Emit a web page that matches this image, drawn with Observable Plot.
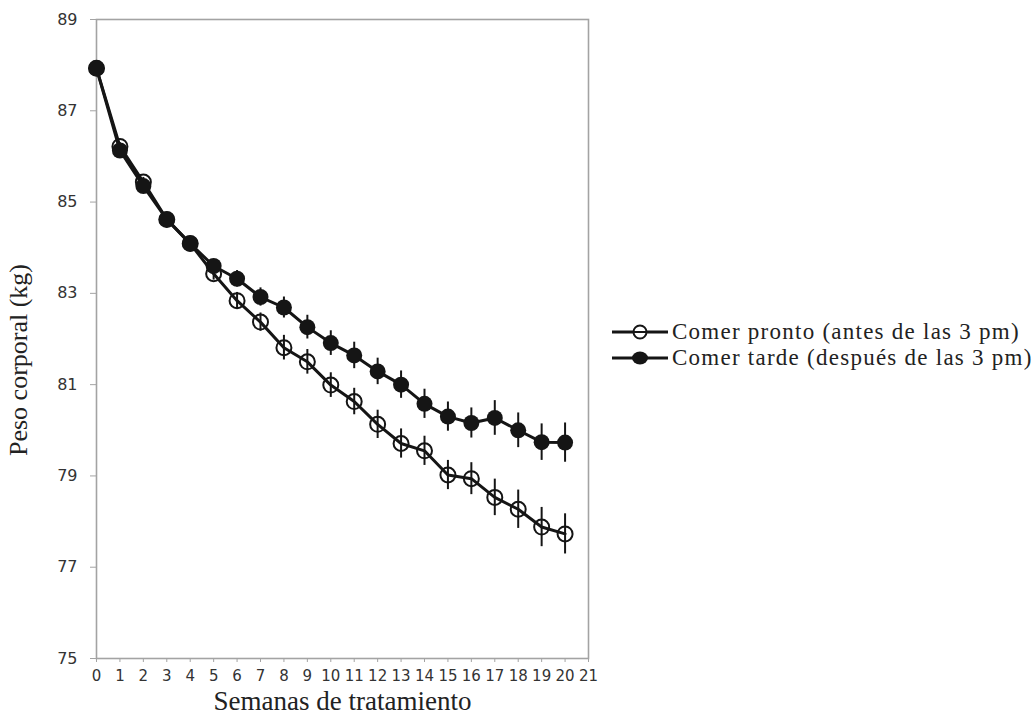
<!DOCTYPE html>
<html>
<head>
<meta charset="utf-8">
<script src="https://cdn.jsdelivr.net/npm/d3@7"></script>
<script src="https://cdn.jsdelivr.net/npm/@observablehq/plot@0.6"></script>
<style>
  body { margin: 0; background: #fff; }
  #wrap { position: relative; width: 1033px; height: 717px; }
  #legend { position: absolute; left: 612px; top: 319px; font-family: "Liberation Serif", serif; font-size: 23px; letter-spacing: 1.25px; color: #222; }
  #legend .row { display: flex; align-items: center; height: 26px; white-space: nowrap; }
  #legend svg { margin-right: 4px; }
</style>
</head>
<body>
<div id="wrap">
  <div id="chart"></div>
  <div id="legend"></div>
</div>
<script>
const weeks = [0,1,2,3,4,5,6,7,8,9,10,11,12,13,14,15,16,17,18,19,20];
const prontoLabel = "Comer pronto (antes de las 3 pm)";
const tardeLabel = "Comer tarde (después de las 3 pm)";
const pronto = [87.93,86.22,85.44,84.62,84.09,83.43,82.84,82.37,81.81,81.50,80.99,80.63,80.13,79.71,79.55,79.02,78.94,78.53,78.27,77.88,77.73];
const prontoErr = [0.05,0.08,0.10,0.10,0.12,0.14,0.18,0.20,0.27,0.27,0.27,0.29,0.31,0.32,0.32,0.32,0.35,0.40,0.42,0.43,0.44];
const tarde = [87.93,86.13,85.35,84.62,84.09,83.60,83.32,82.92,82.69,82.26,81.91,81.64,81.29,81.00,80.58,80.30,80.16,80.27,80.00,79.74,79.73];
const tardeErr = [0.05,0.08,0.10,0.10,0.12,0.14,0.18,0.20,0.23,0.26,0.27,0.29,0.29,0.30,0.32,0.32,0.33,0.38,0.38,0.40,0.43];
const xTicks = d3.range(0, 22);
const yTicks = [75,77,79,81,83,85,87,89];

const dP = weeks.map((w,i) => ({w, v: pronto[i], e: prontoErr[i]}));
const dT = weeks.map((w,i) => ({w, v: tarde[i], e: tardeErr[i]}));

const ink = "#151515";
const chart = Plot.plot({
  width: 1033, height: 717,
  marginLeft: 96, marginTop: 19, marginBottom: 59, marginRight: 445,
  style: {fontFamily: "DejaVu Sans", fontSize: "15px", color: "#333", background: "#fff"},
  x: {domain: [0, 21]},
  y: {domain: [75, 89]},
  marks: [
    Plot.frame({stroke: "#a3a3a3", strokeWidth: 1.6}),
    Plot.axisX({ticks: xTicks, tickSize: 4, tickPadding: 8, stroke: "#a3a3a3", fill: "#333", fontFamily: "DejaVu Sans", fontSize: 15, label: null}),
    Plot.axisY({ticks: yTicks, tickSize: 6, tickPadding: 13, stroke: "#a3a3a3", fill: "#333", fontFamily: "DejaVu Sans", fontSize: 16, label: null}),
    Plot.text(["Semanas de tratamiento"], {frameAnchor: "bottom", lineAnchor: "middle", textAnchor: "middle", dy: 43, fontFamily: "Liberation Serif", fontSize: 27, fill: "#222", style: "letter-spacing:1.8px"}),
    Plot.text(["Peso corporal (kg)"], {frameAnchor: "left", lineAnchor: "middle", textAnchor: "middle", rotate: -90, dx: -78, dy: 21, fontFamily: "Liberation Serif", fontSize: 26, fill: "#222", style: "letter-spacing:1.4px"}),
    // Early series (open markers)
    Plot.line(dP, {x: "w", y: "v", stroke: ink, strokeWidth: 3}),
    Plot.ruleX(dP, {x: "w", y1: d => d.v - d.e, y2: d => d.v + d.e, stroke: ink, strokeWidth: 2}),
    Plot.dot(dP, {x: "w", y: "v", r: 7.5, stroke: ink, strokeWidth: 2, fill: "none"}),
    // Late series (filled markers)
    Plot.line(dT, {x: "w", y: "v", stroke: ink, strokeWidth: 3}),
    Plot.ruleX(dT, {x: "w", y1: d => d.v - d.e, y2: d => d.v + d.e, stroke: ink, strokeWidth: 2}),
    Plot.dot(dT, {x: "w", y: "v", r: 8, fill: ink, stroke: "none"})
  ]
});
document.getElementById("chart").appendChild(chart);

const legend = document.getElementById("legend");
[[prontoLabel, false], [tardeLabel, true]].forEach(([label, filled]) => {
  const row = document.createElement("div");
  row.className = "row";
  row.innerHTML = `<svg width="56" height="20" viewBox="0 0 56 20"><line x1="0" y1="10" x2="56" y2="10" stroke="${ink}" stroke-width="3"/>` +
    (filled ? `<ellipse cx="28" cy="10" rx="8" ry="6.5" fill="${ink}"/>` : `<circle cx="28" cy="10" r="6.5" fill="#fff" stroke="${ink}" stroke-width="2"/><line x1="21" y1="10" x2="35" y2="10" stroke="${ink}" stroke-width="2"/>`) +
    `</svg><span>${label}</span>`;
  legend.appendChild(row);
});
</script>
</body>
</html>
